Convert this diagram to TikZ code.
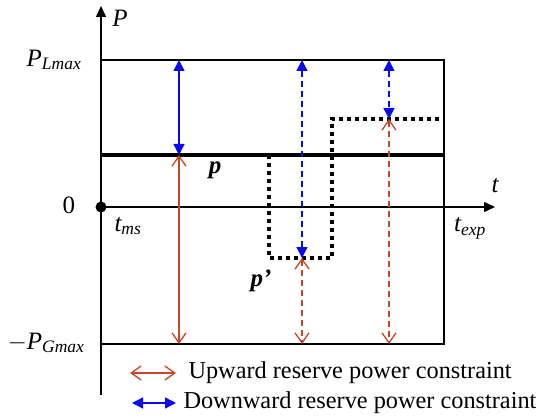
\documentclass[tikz,border=0pt]{standalone}
\usepackage{fontspec}
\setmainfont{Liberation Serif}
\usetikzlibrary{arrows.meta}
\definecolor{upred}{RGB}{200,70,40}
\definecolor{dnblue}{RGB}{10,10,235}
\begin{document}
\begin{tikzpicture}[x=1pt,y=-1pt,
  axis/.style={line width=1.5pt,-{Triangle[length=11pt,width=10pt]}},
  frame/.style={line width=1.4pt},
  pline/.style={line width=4pt},
  ppline/.style={line width=4pt,dash pattern=on 4pt off 4pt},
  dnarrow/.style={draw=dnblue,line width=1.4pt,{Triangle[length=11pt,width=11pt,fill=dnblue]}-{Triangle[length=11pt,width=11pt,fill=dnblue]}},
  uparrow/.style={draw=upred,line width=1.3pt,{Straight Barb[length=10pt,width=14pt]}-{Straight Barb[length=10pt,width=14pt]}},
  dsh/.style={dash pattern=on 6pt off 4pt},
  mlabel/.style={font=\fontsize{25}{27}\selectfont\itshape},
  nlabel/.style={font=\fontsize{25}{27}\selectfont},
  blabel/.style={font=\fontsize{25}{27}\selectfont\bfseries\itshape},
  legtext/.style={font=\fontsize{24.3}{26}\selectfont,anchor=west}]
\useasboundingbox (0,0) rectangle (550,420);
% axes
\coordinate (o) at (101,207);
\coordinate (ytop) at (101,6);
\coordinate (ybot) at (101,395);
\coordinate (xend) at (495,207);
\draw[line width=1.5pt] (ybot) -- (o);
\draw[axis] (o) -- (ytop);
\draw[axis] (o) -- (xend);
\fill (o) circle (5.5pt);
% frame
\coordinate (tl) at (101,60);
\coordinate (tr) at (444,60);
\coordinate (br) at (444,344);
\coordinate (bl) at (101,344);
\draw[frame] (tl) -- (tr) -- (br) -- (bl);
% p line
\coordinate (pa) at (101,155);
\coordinate (pb) at (444,155);
\draw[pline] (pa) -- (pb);
% p' dotted
\coordinate (q1) at (269,155);
\coordinate (q2) at (269,258);
\coordinate (q3) at (332,258);
\coordinate (q4) at (332,119);
\coordinate (q5) at (444,119);
\draw[ppline] (q1) -- (q2) -- (q3) -- (q4) -- (q5);
% arrows
\coordinate (a1t) at (179,60);
\coordinate (a1m) at (179,155);
\coordinate (a1b) at (179,344);
\coordinate (a2t) at (302,60);
\coordinate (a2m) at (302,258);
\coordinate (a2b) at (302,344);
\coordinate (a3t) at (389,60);
\coordinate (a3m) at (389,119);
\coordinate (a3b) at (389,344);
\draw[dnarrow] (a1t) -- (a1m);
\draw[uparrow] (a1m) -- (a1b);
\draw[dnarrow,dsh] (a2t) -- (a2m);
\draw[uparrow,dsh] (a2m) -- (a2b);
\draw[dnarrow,dsh] (a3t) -- (a3m);
\draw[uparrow,dsh] (a3m) -- (a3b);
% labels
\node[mlabel] (lP) at (120,18) {P};
\node[mlabel] (lt) at (495,186) {t};
\node[nlabel] (l0) at (69,205) {0};
\node[mlabel] (ltms) at (128,226) {t\textsubscript{ms}};
\node[mlabel] (ltexp) at (470,228) {t\textsubscript{exp}};
\node[mlabel] (lPL) at (54,60) {P\textsubscript{Lmax}};
\node[mlabel] (lPG) at (46,343) {\upshape$-$\itshape P\textsubscript{Gmax}};
\node[blabel] (lp) at (215,170) {p};
\node[blabel] (lpp) at (261,281) {p’};
% legend
\coordinate (u1) at (130,373);
\coordinate (u2) at (176,373);
\coordinate (d1) at (132,403);
\coordinate (d2) at (176,403);
\draw[uparrow] (u1) -- (u2);
\draw[dnarrow] (d1) -- (d2);
\node[legtext] (lu) at (185,373) {Upward reserve power constraint};
\node[legtext] (ld) at (180,403) {Downward reserve power constraint};
\end{tikzpicture}
\end{document}
